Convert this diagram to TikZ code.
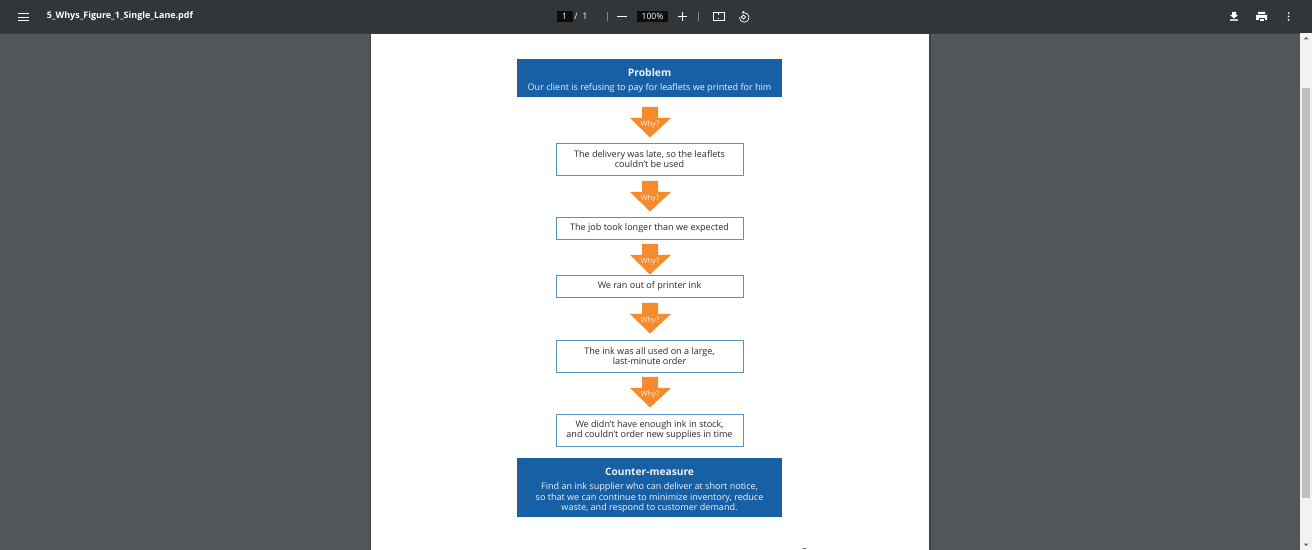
\documentclass[tikz,border=0pt]{standalone}
\usepackage{fontspec}
\setmainfont{Open Sans}
\usetikzlibrary{arrows.meta,calc}
\definecolor{barcol}{HTML}{323639}
\definecolor{viewcol}{HTML}{525659}
\definecolor{bluecol}{HTML}{1760A5}
\definecolor{edgecol}{HTML}{5A92C6}
\definecolor{whycol}{HTML}{F68B2E}
\definecolor{inkcol}{HTML}{2A2A2A}
\newcommand{\headtitle}[2]{{\fontsize{#1}{6.5}\selectfont\bfseries\rule{0pt}{7.4pt}#2}}
\tikzset{
  headbox/.style={fill=bluecol, minimum width=5.3cm, align=center, text=white!92!bluecol, font=\fontsize{5.15}{5.8}\selectfont, inner sep=0pt},
  stepbox/.style={draw=edgecol, line width=0.4pt, fill=white, minimum width=3.74cm, align=center, text=inkcol, font=\fontsize{5.15}{5.6}\selectfont, inner sep=0pt},
  whylabel/.style={text=white!85!whycol, font=\fontsize{4.2}{4.5}\selectfont, inner sep=0pt},
  baricon/.style={white, line width=0.45pt},
  bartext/.style={text=white, font=\fontsize{5.1}{6}\selectfont, inner sep=0pt},
  numbox/.style={fill=black!75!barcol, text=white, font=\fontsize{4.9}{6}\selectfont, inner sep=0pt},
}
\begin{document}
\begin{tikzpicture}[x=0.02cm,y=-0.02cm]
\useasboundingbox (0,0) rectangle (1312,550);
% viewer
\fill[viewcol] (0,0) rectangle (1312,550);
\fill[black!22!viewcol] (369.5,33) rectangle (371,550);
\fill[black!22!viewcol] (929,33) rectangle (930.5,550);
\fill[white] (371,33) rectangle (929,550);
\fill[barcol] (0,0) rectangle (1312,33);
\fill[black!30!viewcol] (0,33) rectangle (1300,34);
% scrollbar
\fill[black!5] (1300,33) rectangle (1312,550);
\fill[black!6!white] (1300,33) rectangle (1301,550);
\fill[black!25] (1302,88) rectangle (1310,498);
\fill[black!60] (1303.5,39.5) -- (1306,37) -- (1308.5,39.5) -- cycle;
\fill[black!60] (1303.5,543.5) -- (1308.5,543.5) -- (1306,546) -- cycle;

% toolbar left
\foreach \y in {13.5,17,20.5} {
  \draw[baricon] (18,\y) -- (29,\y);
}
\node[bartext, anchor=west, font=\fontsize{5.1}{6}\selectfont\bfseries] (filename) at (46.5,16.5) {5\_Whys\_Figure\_1\_Single\_Lane.pdf};

% toolbar middle
\node[numbox, minimum width=0.32cm, minimum height=0.22cm] (pagenum) at (564.5,16.5) {1};
\node[bartext] (pagetotal) at (581,16.5) {/~~1};
\fill[white!40!barcol] (606.5,12) rectangle (607,21);
\draw[baricon] (617,16.5) -- (627,16.5);
\node[numbox, minimum width=0.62cm, minimum height=0.22cm] (zoomval) at (652.5,16.5) {100\%};
\draw[baricon] (678,16.5) -- (687,16.5) (682.5,12) -- (682.5,21);
\fill[white!40!barcol] (698,12) rectangle (698.5,21);
\draw[white, line width=0.4pt] (713,12.5) rectangle (724.5,20.5);
\draw[white, line width=0.4pt] (718.7,13.5) -- (718.7,15) (718.7,18) -- (718.7,19.5);
\draw[white, line width=0.4pt] (739.5,17.5) arc[start angle=180, end angle=-90, radius=4.8] -- (742,13) (742,13) -- (744,11);
\fill[white] (740.5,17) -- (743.5,14.5) -- (746,17) -- (743.5,19.5) -- cycle;
\fill[barcol] (742,17) -- (743.5,15.8) -- (744.8,17) -- (743.5,18.2) -- cycle;

% toolbar right
\fill[white] (1232,12) rectangle (1236,15) (1230,15) -- (1238,15) -- (1234,18.5) -- cycle;
\fill[white!75!barcol] (1230,19.5) rectangle (1238,21);
\fill[white] (1256,15) rectangle (1267,20) (1258,12) rectangle (1265,14);
\fill[barcol] (1258.5,18) rectangle (1264.5,21);
\fill[white] (1259.5,19) rectangle (1263.5,20.8);
\foreach \y in {13,16.5,20} {
  \fill[white] (1288.7,\y) circle (1);
}

% the flow, top to bottom
\node[headbox, minimum height=0.76cm] (problem) at (649.5,78) {\headtitle{5.9}{Problem}\\[2.4pt]Our client is refusing to pay for leaflets we printed for him};
\node[stepbox, minimum height=0.64cm] (late) at (649.5,159) {The delivery was late, so the leaflets\\couldn't be used};
\node[stepbox, minimum height=0.44cm] (longer) at (649.5,228) {The job took longer than we expected};
\node[stepbox, minimum height=0.44cm] (inkout) at (649.5,286) {We ran out of printer ink};
\node[stepbox, minimum height=0.64cm] (order) at (649.5,356) {The ink was all used on a large,\\last-minute order};
\node[stepbox, minimum height=0.64cm] (stock) at (649.5,430) {We didn't have enough ink in stock,\\and couldn't order new supplies in time};
\node[headbox, minimum height=1.18cm] (counter) at (649.5,487.5) {\headtitle{5.8}{Counter-measure}\\[2.4pt]Find an ink supplier who can deliver at short notice,\\so that we can continue to minimize inventory, reduce\\waste, and respond to customer demand.};

% why arrows
\foreach \y/\name in {107/whya, 181/whyb, 244/whyc, 303/whyd, 377/whye} {
  \fill[whycol] (642,\y) -- (658,\y) -- (658,\y+11) -- (671,\y+11) -- (650,\y+30.5) -- (630,\y+11) -- (642,\y+11) -- cycle;
  \node[whylabel] (\name) at (650,\y+18) {Why?};
}

\fill[black!60] (803,548) rectangle (806,549);
\end{tikzpicture}
\end{document}
